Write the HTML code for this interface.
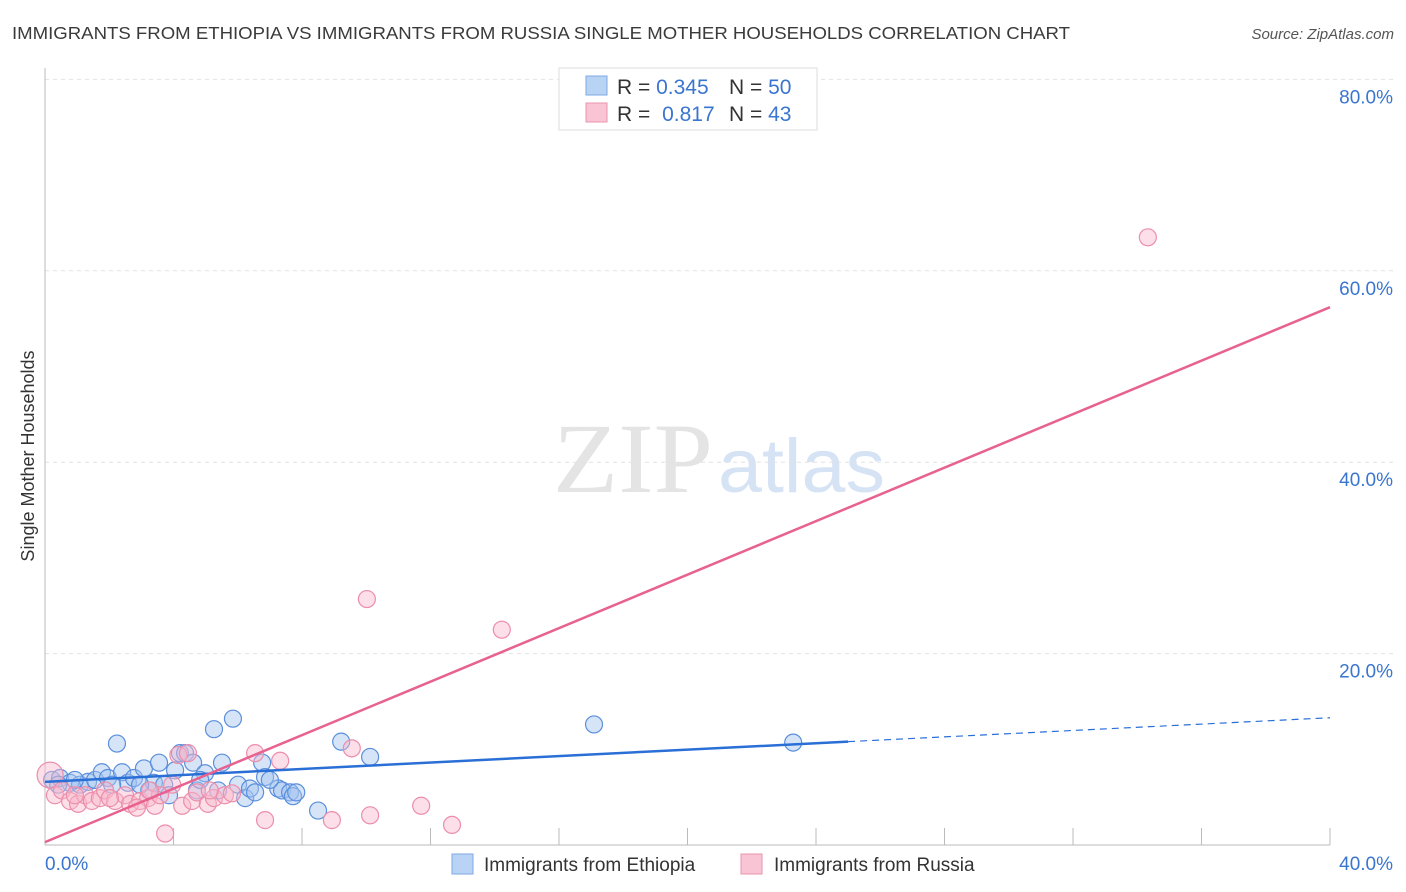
<!DOCTYPE html>
<html><head><meta charset="utf-8"><style>
body{margin:0;background:#fff;font-family:"Liberation Sans",sans-serif;}
svg{display:block}
</style></head><body>
<svg id="c" width="1406" height="892" xmlns="http://www.w3.org/2000/svg">
<text x="12" y="39" font-size="17.5" fill="#3a3a3a" textLength="1058" lengthAdjust="spacingAndGlyphs">IMMIGRANTS FROM ETHIOPIA VS IMMIGRANTS FROM RUSSIA SINGLE MOTHER HOUSEHOLDS CORRELATION CHART</text>
<text x="1394" y="39" font-size="15" font-style="italic" fill="#555" text-anchor="end">Source: ZipAtlas.com</text>
<text x="0" y="0" transform="translate(34,456) rotate(-90)" font-size="18" fill="#333" text-anchor="middle">Single Mother Households</text>
<text x="553" y="492" font-size="100" font-family="Liberation Serif,serif" fill="#e4e4e4" textLength="160" lengthAdjust="spacingAndGlyphs">ZIP</text>
<text x="718" y="492" font-size="76" fill="#d5e3f5" textLength="167" lengthAdjust="spacingAndGlyphs">atlas</text>
<g id="grid"></g><g id="marks"></g>
<g>
<rect x="559" y="68" width="258" height="62" fill="#fff" stroke="#ddd"/>
<rect x="586" y="76" width="21" height="19" fill="#b9d3f5" stroke="#7fa9e3"/>
<rect x="586" y="103" width="21" height="19" fill="#f9c5d4" stroke="#eb93ac"/>
<text x="617" y="94" font-size="21" fill="#333">R = <tspan fill="#3a75cf">0.345</tspan></text>
<text x="729" y="94" font-size="21" fill="#333">N = <tspan fill="#3a75cf">50</tspan></text>
<text x="617" y="121" font-size="21" fill="#333">R = <tspan fill="#3a75cf" dx="6">0.817</tspan></text>
<text x="729" y="121" font-size="21" fill="#333">N = <tspan fill="#3a75cf">43</tspan></text>
</g>
<g>
<rect x="452" y="854" width="21" height="20" fill="#b9d3f5" stroke="#7fa9e3"/>
<text x="484" y="871" font-size="19" fill="#333">Immigrants from Ethiopia</text>
<rect x="741" y="854" width="21" height="20" fill="#f9c5d4" stroke="#eb93ac"/>
<text x="774" y="871" font-size="19" fill="#333">Immigrants from Russia</text>
</g>
</svg>
<script>
const yTicks=[20,40,60,80];
const yTickLabels=["20.0%","40.0%","60.0%","80.0%"];
const xTickLabels=["0.0%","40.0%"];
const ethX=[0.22,0.47,0.78,1.09,1.34,1.56,1.77,1.96,2.24,2.4,2.58,2.77,3.08,3.24,3.39,3.55,3.71,3.86,4.05,4.2,4.36,4.61,4.73,4.98,5.26,5.39,5.51,5.85,6.01,6.23,6.38,6.54,6.76,6.85,7.26,7.38,7.63,7.72,7.82,8.5,9.22,10.12,17.09,23.29,0.41,0.93,2.09,2.96,4.83,7.0];
const ethY=[6.8,7.0,6.5,6.3,6.6,6.8,7.6,7.0,10.6,7.6,6.5,7.0,8.0,5.7,6.5,8.6,6.3,5.2,7.8,9.6,9.6,8.6,5.7,7.5,12.1,5.7,8.6,13.2,6.3,4.9,5.9,5.5,8.6,7.1,5.9,5.7,5.5,5.1,5.5,3.6,10.8,9.2,12.6,10.7,6.3,6.8,6.3,6.3,6.8,6.8];
const rusX=[0.16,0.31,0.53,0.78,1.03,1.25,1.46,1.71,1.87,2.18,2.49,2.65,2.96,3.21,3.42,3.58,3.74,3.96,4.15,4.27,4.45,4.58,4.73,5.07,5.26,5.6,5.82,6.54,6.85,7.32,8.93,9.55,10.02,10.12,11.71,12.67,14.22,34.33,0.93,2.02,2.86,3.27,5.13];
const rusY=[7.3,5.2,5.7,4.6,4.3,5.2,4.6,4.9,5.7,4.6,5.2,4.3,4.6,4.9,4.1,5.2,1.2,6.3,9.4,4.1,9.6,4.6,5.5,4.3,4.9,5.2,5.4,9.6,2.6,8.8,2.6,10.1,25.7,3.1,4.1,2.1,22.5,63.5,5.2,4.9,3.9,5.7,5.7];
const ethLine=[0,6.6,25,10.8,40,13.3];
const rusLine=[0,0.3,40,56.2];
const X=v=>45+v/40*1285, Y=v=>845-v*9.57;
const NS="http://www.w3.org/2000/svg";
const grid=document.getElementById('grid'), marks=document.getElementById('marks');
function el(t,a,p){const e=document.createElementNS(NS,t);for(const k in a)e.setAttribute(k,a[k]);p.appendChild(e);return e;}
yTicks.forEach((t,i)=>{
 const l=el('line',{x1:45,x2:1394,y1:Y(t),y2:Y(t),stroke:'#e2e2e2','stroke-dasharray':'4,4'},grid);
 
 
 const tx=el('text',{x:1393,y:Y(t)+24,'font-size':19,fill:'#3a75cf','text-anchor':'end'},grid);
 tx.textContent=yTickLabels[i];
 
 
});
const ax=el('line',{x1:45,x2:1330,y1:845,y2:845,stroke:'#bbb'},grid);


const ay=el('line',{x1:45,x2:45,y1:68,y2:845,stroke:'#bbb'},grid);


for(let i=1;i<=10;i++){const xx=45+i*128.5;const tk=el('line',{x1:xx,x2:xx,y1:828,y2:845,stroke:'#bbb'},grid);
 
 }
xTickLabels.forEach((s,i)=>{const tx=el('text',{x:i?1393:45,y:870,'font-size':19,fill:'#3a75cf','text-anchor':i?'end':'start'},grid);tx.textContent=s;
 
 });
ethX.forEach((x,i)=>{const c=el('circle',{cx:X(x),cy:Y(ethY[i]),r:8.5,fill:'rgba(164,196,240,0.45)',stroke:'#5b8fdc','stroke-width':1.2},marks);
 
 });
rusX.forEach((x,i)=>{const c=el('circle',{cx:X(x),cy:Y(rusY[i]),r:i===0?13:8.5,fill:'rgba(248,184,203,0.45)',stroke:'#ec8eab','stroke-width':1.2},marks);
 
 });
const l1=el('line',{x1:X(ethLine[0]),y1:Y(ethLine[1]),x2:X(ethLine[2]),y2:Y(ethLine[3]),stroke:'#2a6fd6','stroke-width':2.5},marks);


const l2=el('line',{x1:X(ethLine[2]),y1:Y(ethLine[3]),x2:X(ethLine[4]),y2:Y(ethLine[5]),stroke:'#2a6fd6','stroke-width':1.2,'stroke-dasharray':'7,5'},marks);


const l3=el('line',{x1:X(rusLine[0]),y1:Y(rusLine[1]),x2:X(rusLine[2]),y2:Y(rusLine[3]),stroke:'#e8628f','stroke-width':2.5},marks);


</script>
</body></html>
